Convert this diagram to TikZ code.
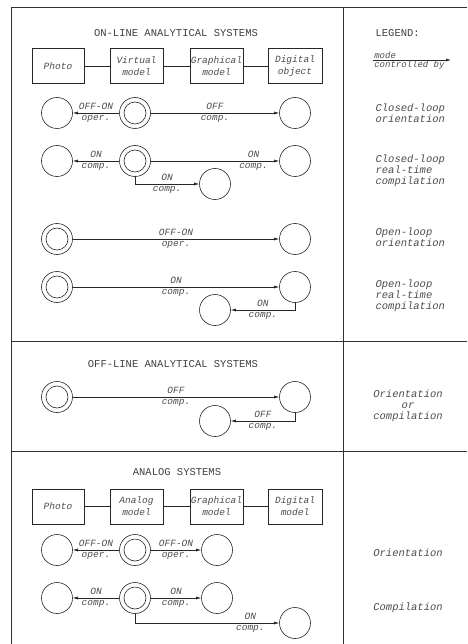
\documentclass[tikz,border=0pt]{standalone}
\usepackage{fontspec}
\setmonofont{Liberation Mono}
\usetikzlibrary{arrows.meta}
\begin{document}
\begin{tikzpicture}[x=1pt,y=-1pt,line width=0.6pt,
  font=\ttfamily\fontsize{10}{10.5}\selectfont,
  lbl/.style={font=\ttfamily\itshape\fontsize{10}{10.5}\selectfont,text=black!70},
  ttl/.style={font=\ttfamily\fontsize{10.5}{12}\selectfont,text=black!75},
  modelbox/.style={draw=black!85,minimum width=53pt,minimum height=35pt,inner sep=0.5pt,
    align=center,lbl,font=\ttfamily\itshape\fontsize{9.5}{12}\selectfont},
  st/.style={circle,draw=black!85,minimum size=31pt,inner sep=0pt},
  stin/.style={st,path picture={\draw[black!85] (path picture bounding box.center) circle (11pt);}},
  flow/.style={draw=black!85,-{Latex[length=5pt,width=3pt]}},
  tlab/.style={lbl,inner sep=0pt,yshift=6.5pt,font=\ttfamily\itshape\fontsize{9.5}{10}\selectfont},
  blab/.style={lbl,inner sep=0pt,yshift=-6pt,font=\ttfamily\itshape\fontsize{9.5}{10}\selectfont},
  legtext/.style={lbl,align=left,anchor=west,font=\ttfamily\itshape\fontsize{10.5}{11}\selectfont}]
  \useasboundingbox (0,0) rectangle (467,644);

  % frame
  \draw[black!80,line width=0.8pt] (11,644) -- (11,7) -- (467,7);
  \draw[black!80,line width=0.8pt] (343,7) -- (343,644);
  \draw[black!80,line width=0.8pt] (11,341) -- (467,341);
  \draw[black!80,line width=0.8pt] (11,451) -- (467,451);

  % on-line analytical systems
  \node[ttl] (tonline) at (176,33) {ON-LINE ANALYTICAL SYSTEMS};
  \node[modelbox,minimum width=52pt] (photo1) at (58,66) {Photo};
  \node[modelbox] (virt) at (136.5,66) {Virtual\\model};
  \node[modelbox] (graph1) at (216.5,66) {Graphical\\model};
  \node[modelbox,minimum width=54pt] (digobj) at (295,66) {Digital\\object};
  \draw[black!85] (photo1) -- (virt) -- (graph1) -- (digobj);

  % closed-loop orientation
  \node[st] (c1a) at (57,113) {};
  \node[stin] (d1) at (135,113) {};
  \node[st] (c1b) at (295,113) {};
  \draw[flow] (d1) -- node[tlab]{OFF-ON} node[blab]{oper.} (c1a);
  \draw[flow] (d1) -- node[tlab]{OFF} node[blab]{comp.} (c1b);

  % closed-loop real-time compilation
  \node[st] (c2a) at (57,161) {};
  \node[stin] (d2) at (135,161) {};
  \node[st] (c2b) at (295,161) {};
  \node[st] (c2c) at (215,184) {};
  \draw[flow] (d2) -- node[tlab]{ON} node[blab]{comp.} (c2a);
  \draw[flow] (d2) -- node[tlab,pos=.8]{ON} node[blab,pos=.8]{comp.} (c2b);
  \draw[flow] (d2.south) |- node[tlab,pos=.75]{ON} node[blab,pos=.75]{comp.} (c2c);

  % open-loop orientation
  \node[stin] (d3) at (57,239) {};
  \node[st] (c3a) at (295,239) {};
  \draw[flow] (d3) -- node[tlab]{OFF-ON} node[blab]{oper.} (c3a);

  % open-loop real-time compilation
  \node[stin] (d4) at (57,287) {};
  \node[st] (c4a) at (295,287) {};
  \node[st] (c4b) at (215,310) {};
  \draw[flow] (d4) -- node[tlab]{ON} node[blab]{comp.} (c4a);
  \draw[flow] (c4a.south) |- node[tlab,pos=.75]{ON} node[blab,pos=.75]{comp.} (c4b);

  % legend
  \node[ttl,anchor=west] (legend) at (372,33) {LEGEND:};
  \coordinate (lgs) at (373,60);
  \coordinate (lge) at (451,60);
  \draw[flow] (lgs) -- (lge);
  \node[lbl,anchor=south west,inner sep=1pt,font=\ttfamily\itshape\fontsize{9}{10}\selectfont] (lgmode) at (lgs) {mode};
  \node[lbl,anchor=north west,inner sep=1pt,font=\ttfamily\itshape\fontsize{9}{10}\selectfont] (lgctrl) at (lgs) {controlled by};
  \node[legtext] (l1) at (372,113) {Closed-loop\\orientation};
  \node[legtext] (l2) at (372,171) {Closed-loop\\real-time\\compilation};
  \node[legtext] (l3) at (372,237) {Open-loop\\orientation};
  \node[legtext] (l4) at (372,296) {Open-loop\\real-time\\compilation};

  % off-line analytical systems
  \node[ttl] (toffline) at (173,364) {OFF-LINE ANALYTICAL SYSTEMS};
  \node[stin] (d5) at (57,397) {};
  \node[st] (c5a) at (295,397) {};
  \node[st] (c5b) at (215,421) {};
  \draw[flow] (d5) -- node[tlab]{OFF} node[blab]{comp.} (c5a);
  \draw[flow] (c5a.south) |- node[tlab,pos=.75]{OFF} node[blab,pos=.75]{comp.} (c5b);
  \node[legtext,align=center,anchor=center] (l5) at (408,406) {Orientation\\or\\compilation};

  % analog systems
  \node[ttl] (tanalog) at (177,472) {ANALOG SYSTEMS};
  \node[modelbox,minimum width=52pt] (photo2) at (58,506.5) {Photo};
  \node[modelbox] (anmod) at (136.5,506.5) {Analog\\model};
  \node[modelbox] (graph2) at (216.5,506.5) {Graphical\\model};
  \node[modelbox,minimum width=54pt] (digmod) at (295,506.5) {Digital\\model};
  \draw[black!85] (photo2) -- (anmod) -- (graph2) -- (digmod);

  \node[st] (c6a) at (57,550) {};
  \node[stin] (d6) at (135,550) {};
  \node[st] (c6b) at (217,550) {};
  \draw[flow] (d6) -- node[tlab]{OFF-ON} node[blab]{oper.} (c6a);
  \draw[flow] (d6) -- node[tlab]{OFF-ON} node[blab]{oper.} (c6b);

  \node[st] (c7a) at (57,598) {};
  \node[stin] (d7) at (135,598) {};
  \node[st] (c7b) at (217,598) {};
  \node[st] (c7c) at (295,623) {};
  \draw[flow] (d7) -- node[tlab]{ON} node[blab]{comp.} (c7a);
  \draw[flow] (d7) -- node[tlab]{ON} node[blab]{comp.} (c7b);
  \draw[flow] (d7.south) |- node[tlab,pos=.9]{ON} node[blab,pos=.9]{comp.} (c7c);
  \node[legtext,anchor=center] (l6) at (408,553) {Orientation};
  \node[legtext,anchor=center] (l7) at (408,608) {Compilation};
\end{tikzpicture}
\end{document}
